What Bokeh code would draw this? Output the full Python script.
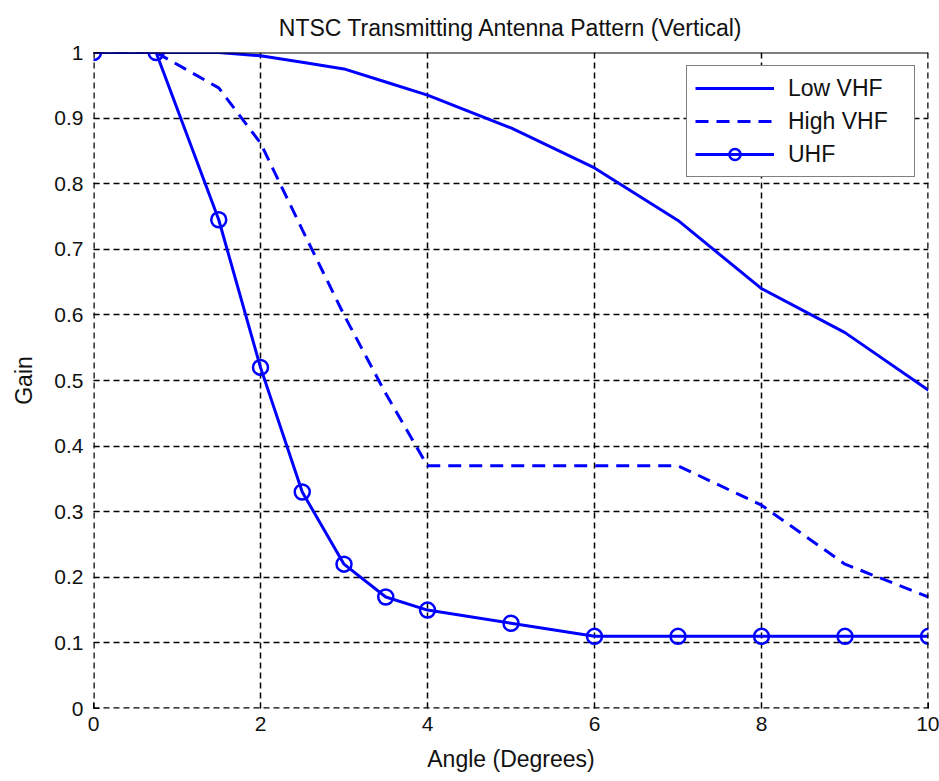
from bokeh.plotting import figure
from bokeh.models import FixedTicker, Legend, LegendItem, Span
from bokeh.embed import file_html
from bokeh.resources import INLINE

# Elevation angle below horizontal (degrees)
angle = [0, 0.75, 1.5, 2, 2.5, 3, 3.5, 4, 5, 6, 7, 8, 9, 10]

# Relative field gain per band
low_vhf = [1.0, 1.0, 1.0, 0.995, 0.985, 0.975, 0.955, 0.935, 0.885, 0.824, 0.744, 0.64, 0.573, 0.485]
high_vhf = [1.0, 1.0, 0.946, 0.862, 0.73, 0.60, 0.48, 0.37, 0.37, 0.37, 0.37, 0.31, 0.22, 0.17]
uhf = [1.0, 1.0, 0.745, 0.52, 0.33, 0.22, 0.17, 0.15, 0.13, 0.11, 0.11, 0.11, 0.11, 0.11]

x_ticks = [0, 2, 4, 6, 8, 10]
y_ticks = [0, 0.1, 0.2, 0.3, 0.4, 0.5, 0.6, 0.7, 0.8, 0.9, 1.0]
y_tick_labels = ["0", "0.1", "0.2", "0.3", "0.4", "0.5", "0.6", "0.7", "0.8", "0.9", "1"]

FONT = "Liberation Sans"
BLUE = "#0000ff"
TEXT = "#111111"
GRID_DASH = "6 4"

p = figure(
    width=939, height=781,
    x_range=(0, 10), y_range=(0, 1),
    output_backend="svg", toolbar_location=None,
    title="NTSC Transmitting Antenna Pattern (Vertical)",
    min_border_left=93, min_border_right=11, min_border_top=52, min_border_bottom=73,
)
p.background_fill_color = "white"
p.border_fill_color = "white"
p.outline_line_color = None

p.title.align = "center"
p.title.text_font = FONT
p.title.text_font_size = "23px"
p.title.text_font_style = "normal"
p.title.text_color = TEXT
p.title.standoff = 23

# Axes
p.xaxis.ticker = FixedTicker(ticks=x_ticks)
p.yaxis.ticker = FixedTicker(ticks=y_ticks)
p.yaxis.major_label_overrides = {v: s for v, s in zip(y_ticks, y_tick_labels)}
p.xaxis.axis_label = "Angle (Degrees)"
p.yaxis.axis_label = "Gain"
for ax in (p.xaxis, p.yaxis):
    ax.axis_line_color = None
    ax.major_tick_in = 6
    ax.major_tick_out = 0
    ax.major_tick_line_color = "black"
    ax.minor_tick_line_color = None
    ax.major_label_text_font = FONT
    ax.major_label_text_font_size = "21px"
    ax.major_label_text_color = TEXT
    ax.axis_label_text_font = FONT
    ax.axis_label_text_font_size = "23px"
    ax.axis_label_text_font_style = "normal"
    ax.axis_label_text_color = TEXT
p.xaxis.major_label_standoff = 8
p.xaxis.axis_label_standoff = 12
p.yaxis.major_label_standoff = 10
p.yaxis.axis_label_standoff = 14

# Dashed black grid, including the edges of the axes box
for g in (p.xgrid, p.ygrid):
    g.grid_line_color = "black"
    g.grid_line_width = 1.5
    g.grid_line_dash = GRID_DASH
    g.grid_line_alpha = 1.0
for loc, dim in ((0, "height"), (10, "height"), (0, "width")):
    p.add_layout(Span(location=loc, dimension=dim, line_color="black",
                      line_width=2.5, line_dash=GRID_DASH))
# Solid top border
p.add_layout(Span(location=1, dimension="width", line_color="black", line_width=2))

r_low = p.line(angle, low_vhf, line_color=BLUE, line_width=3)
r_high = p.line(angle, high_vhf, line_color=BLUE, line_width=3, line_dash="13 8")
r_uhf = p.line(angle, uhf, line_color=BLUE, line_width=3)
r_uhf_pts = p.scatter(angle, uhf, marker="circle", size=15, line_color=BLUE,
                      line_width=2.5, fill_alpha=0)

legend = Legend(
    items=[
        LegendItem(label="Low VHF", renderers=[r_low]),
        LegendItem(label="High VHF", renderers=[r_high]),
        LegendItem(label="UHF", renderers=[r_uhf, r_uhf_pts]),
    ],
    location="top_right",
    margin=13,
    padding=8,
    spacing=5,
    glyph_width=79,
    glyph_height=28,
    label_height=28,
    label_width=118,
    label_standoff=14,
    label_text_font=FONT,
    label_text_font_size="23px",
    label_text_color=TEXT,
    border_line_color="black",
    border_line_width=1.5,
    background_fill_color="white",
    background_fill_alpha=1.0,
)
p.add_layout(legend)

open("out.html", "w").write(file_html(p, INLINE))
